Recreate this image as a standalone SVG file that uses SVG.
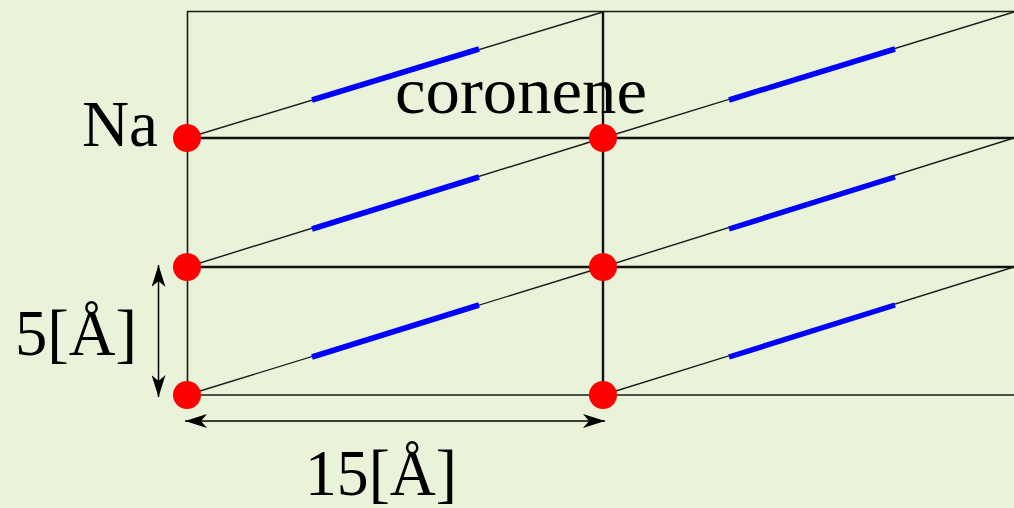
<svg xmlns="http://www.w3.org/2000/svg" width="1014" height="508" viewBox="0 0 1014 508">
<defs>
<style>
.thin{stroke:#1a1a1a;stroke-width:1.6;fill:none}
.thick{stroke:#111;stroke-width:2.4;fill:none}
.diag{stroke:#1a1a1a;stroke-width:1.4;fill:none}
.mol{stroke:#0000ff;stroke-width:5.5;fill:none}
.na{fill:#ff0000}
.lbl{font-family:"Liberation Serif","Times New Roman",serif;font-size:65px;fill:#000}
.dim{stroke:#000;stroke-width:1.5;fill:none}
</style>
<marker id="ah" viewBox="0 0 22 14" refX="22" refY="7" markerWidth="22" markerHeight="14" markerUnits="userSpaceOnUse" orient="auto-start-reverse">
<path d="M0,0 L22,7 L0,14 L6,7 Z" fill="#000"/>
</marker>
</defs>
<rect width="1014" height="508" fill="#e9f3d9"/>
<g id="connectors">
<line class="thin" x1="187" y1="11.5" x2="1014" y2="11.5"/>
<line class="thin" x1="187.5" y1="11" x2="187.5" y2="395"/>
<line class="thick" x1="603" y1="11" x2="603" y2="395"/>
<line class="thick" x1="187" y1="138" x2="1014" y2="138"/>
<line class="thick" x1="187" y1="267" x2="1014" y2="267"/>
<line class="thin" x1="187" y1="395" x2="1014" y2="395"/>
<line class="diag" x1="187" y1="138" x2="603" y2="12"/>
<line class="diag" x1="187" y1="267" x2="603" y2="138"/>
<line class="diag" x1="187" y1="395" x2="603" y2="267"/>
<line class="diag" x1="603" y1="138" x2="1014" y2="12"/>
<line class="diag" x1="603" y1="267" x2="1014" y2="138"/>
<line class="diag" x1="603" y1="395" x2="1014" y2="267"/>
<line class="dim" x1="158.5" y1="265" x2="158.5" y2="397" marker-start="url(#ah)" marker-end="url(#ah)"/>
<line class="dim" x1="185" y1="421" x2="605" y2="421" marker-start="url(#ah)" marker-end="url(#ah)"/>
</g>
<g id="coronene">
<line class="mol" x1="312" y1="100" x2="479" y2="49"/>
<line class="mol" x1="312" y1="229" x2="479" y2="177"/>
<line class="mol" x1="312" y1="357" x2="479" y2="305"/>
<line class="mol" x1="729" y1="100" x2="895" y2="49"/>
<line class="mol" x1="729" y1="229" x2="895" y2="177"/>
<line class="mol" x1="729" y1="357" x2="895" y2="305"/>
</g>
<g id="sodium">
<circle class="na" cx="187" cy="138" r="14"/>
<circle class="na" cx="603" cy="138" r="14"/>
<circle class="na" cx="187" cy="267" r="14"/>
<circle class="na" cx="603" cy="267" r="14"/>
<circle class="na" cx="187" cy="395" r="14"/>
<circle class="na" cx="603" cy="395" r="14"/>
</g>
<g id="labels">
<text class="lbl" x="82" y="146" textLength="76" lengthAdjust="spacingAndGlyphs">Na</text>
<text class="lbl" x="395" y="113" textLength="252" lengthAdjust="spacingAndGlyphs">coronene</text>
<text class="lbl" x="15" y="355" textLength="122" lengthAdjust="spacingAndGlyphs">5[Å]</text>
<text class="lbl" x="305" y="495" textLength="152" lengthAdjust="spacingAndGlyphs">15[Å]</text>
</g>
</svg>
